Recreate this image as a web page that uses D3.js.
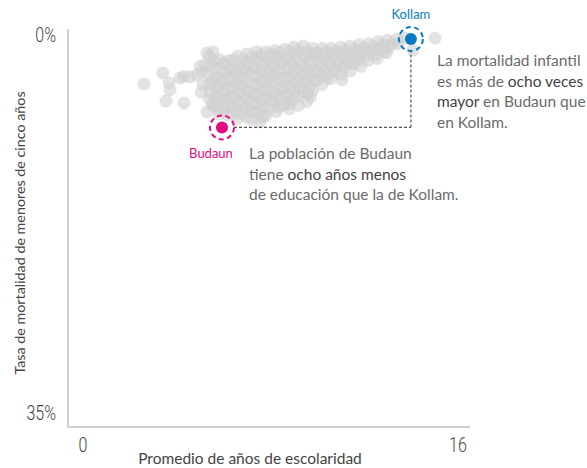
<!DOCTYPE html>
<html>
<head>
<meta charset="utf-8">
<script src="https://cdn.jsdelivr.net/npm/d3@7"></script>
<style>
body { margin: 0; background: #fff; }
text { font-family: Lato, "Open Sans", sans-serif; }
.tick-label { font-family: Roboto, "DejaVu Sans Condensed", sans-serif; font-weight: 300; font-size: 20px; fill: #444; }
.note { font-size: 15.5px; fill: #6b6b6b; }
.note .em { fill: #444; }
</style>
</head>
<body>
<svg width="587" height="468"></svg>
<script>
var xTicks = [0, 16];
var yTicks = [0, 35];

// promedio de años de escolaridad, tasa de mortalidad (%) por distrito
var districts = [
    [2.60, 4.86], [3.41, 3.89], [3.67, 4.77], [3.71, 5.39], [3.54, 6.37], [4.31, 6.54],
    [4.14, 4.33], [4.30, 4.20], [4.56, 4.24], [4.86, 4.07], [5.08, 3.80], [5.12, 4.95],
    [5.29, 2.12], [5.55, 2.03], [5.20, 3.18], [5.29, 7.34], [5.50, 6.70], [5.75, 7.00],
    [5.80, 6.25], [5.00, 3.30], [5.05, 5.60],
    [5.40, 2.40], [5.45, 3.20], [5.35, 4.00], [5.40, 4.80], [5.45, 5.60], [5.40, 6.20],
    [5.80, 2.70], [5.85, 3.50], [5.75, 4.30], [5.80, 5.10], [5.85, 5.90], [5.80, 7.50],
    [6.20, 2.80], [6.25, 3.60], [6.15, 4.40], [6.20, 5.20], [6.25, 6.00], [6.20, 6.80], [6.15, 7.60],
    [6.60, 2.40], [6.65, 3.20], [6.55, 4.00], [6.60, 4.80], [6.65, 5.60], [6.60, 6.40], [6.55, 7.20], [6.60, 7.90],
    [7.00, 2.20], [7.05, 3.00], [6.95, 3.80], [7.00, 4.60], [7.05, 5.40], [7.00, 6.20], [6.95, 7.00], [7.00, 7.80],
    [7.40, 2.00], [7.45, 2.60], [7.35, 3.40], [7.40, 4.20], [7.45, 5.00], [7.40, 5.80], [7.35, 6.60], [7.40, 7.40], [7.55, 8.20],
    [7.80, 2.00], [7.85, 2.90], [7.75, 3.70], [7.80, 4.50], [7.85, 5.30], [7.80, 6.10], [7.75, 6.90], [7.80, 7.70],
    [8.20, 1.90], [8.25, 2.50], [8.15, 3.30], [8.20, 4.10], [8.25, 4.90], [8.20, 5.70], [8.15, 6.50], [8.25, 7.30],
    [8.60, 1.80], [8.65, 2.70], [8.55, 3.50], [8.60, 4.30], [8.65, 5.10], [8.60, 5.90], [8.55, 6.70], [8.80, 7.05],
    [9.00, 1.60], [9.05, 2.30], [8.95, 3.10], [9.00, 3.90], [9.05, 4.70], [9.00, 5.50], [8.95, 6.30], [9.20, 6.75],
    [9.40, 1.50], [9.45, 2.40], [9.35, 3.20], [9.40, 4.00], [9.45, 4.80], [9.40, 5.60], [9.55, 6.40],
    [9.80, 1.70], [9.85, 2.20], [9.75, 3.00], [9.80, 3.80], [9.85, 4.60], [9.80, 5.40], [9.70, 6.00],
    [10.20, 1.70], [10.25, 2.50], [10.15, 3.30], [10.20, 4.10], [10.20, 4.90],
    [10.60, 1.70], [10.65, 2.30], [10.55, 3.10], [10.60, 3.90], [10.55, 4.40],
    [11.00, 1.60], [11.05, 2.40], [10.95, 3.20], [11.00, 4.00], [11.05, 4.50],
    [11.40, 1.50], [11.45, 2.20], [11.35, 3.00], [11.40, 3.70],
    [11.80, 1.40], [11.85, 2.00], [11.75, 2.70], [11.85, 3.30],
    [12.20, 1.30], [12.25, 2.00], [12.15, 2.80],
    [12.60, 1.10], [12.65, 1.80], [12.55, 2.60],
    [13.00, 1.00], [13.05, 1.60], [12.95, 2.10],
    [13.40, 0.90], [13.45, 1.30],
    [13.70, 0.80], [14.08, 1.86], [15.02, 0.80],
    // segunda capa, más densa en el centro
    [5.60, 2.85], [5.65, 3.60], [5.55, 4.45], [5.60, 5.20], [5.65, 6.00], [5.60, 6.80],
    [6.00, 3.00], [6.05, 3.85], [5.95, 4.60], [6.00, 5.40], [6.05, 6.20], [6.00, 7.05],
    [6.40, 2.75], [6.45, 3.60], [6.35, 4.40], [6.40, 5.25], [6.45, 6.00], [6.40, 6.80], [6.35, 7.55],
    [6.80, 2.70], [6.85, 3.50], [6.75, 4.30], [6.80, 5.10], [6.85, 5.90], [6.80, 6.70], [6.75, 7.50],
    [7.20, 2.50], [7.25, 3.30], [7.15, 4.10], [7.20, 4.90], [7.25, 5.70], [7.20, 6.50], [7.15, 7.30], [7.20, 8.00],
    [7.60, 2.30], [7.65, 3.00], [7.55, 3.80], [7.60, 4.60], [7.65, 5.40], [7.60, 6.20], [7.55, 7.00], [7.65, 7.80],
    [8.00, 2.20], [8.05, 3.10], [7.95, 3.90], [8.00, 4.70], [8.05, 5.50], [8.00, 6.30], [7.95, 7.10],
    [8.40, 2.10], [8.45, 2.90], [8.35, 3.70], [8.40, 4.50], [8.45, 5.30], [8.40, 6.10], [8.35, 6.90],
    [8.80, 2.00], [8.85, 2.80], [8.75, 3.60], [8.80, 4.40], [8.85, 5.20], [8.80, 6.00], [8.75, 6.60],
    [9.20, 1.90], [9.25, 2.70], [9.15, 3.50], [9.20, 4.30], [9.25, 5.10], [9.20, 5.90],
    [9.60, 2.00], [9.65, 2.80], [9.55, 3.60], [9.60, 4.40], [9.65, 5.20], [9.60, 5.70],
    [10.00, 2.10], [10.05, 2.90], [9.95, 3.70], [10.00, 4.50],
    [10.40, 2.00], [10.45, 2.80], [10.35, 3.60], [10.40, 4.30],
    [10.80, 2.00], [10.85, 2.80], [10.75, 3.60],
    [11.20, 1.90], [11.25, 2.70], [11.15, 3.40],
    [11.60, 1.80], [11.65, 2.50], [11.55, 3.10],
    [12.00, 1.70], [12.05, 2.40],
    [12.40, 1.60], [12.45, 2.30],
    [12.80, 1.40], [12.85, 2.00],
    [13.20, 1.30]
];

var kollam = { name: "Kollam", years: 13.99, rate: 0.88, color: "#0a7bc2" };
var budaun = { name: "Budaun", years: 5.93, rate: 8.70, color: "#e20a80" };

var svg = d3.select("svg");

var x = d3.scaleLinear().domain([0, 16]).range([83, 458]);
var y = d3.scaleLinear().domain([0, 35]).range([29, 425]);

// ejes
svg.append("line")
    .attr("x1", 68).attr("x2", 68).attr("y1", 29).attr("y2", 428)
    .attr("stroke", "#cfcfcf").attr("stroke-width", 2);
svg.append("line")
    .attr("x1", 67).attr("x2", 470).attr("y1", 427).attr("y2", 427)
    .attr("stroke", "#cfcfcf").attr("stroke-width", 2);

svg.selectAll(".ytick")
    .data(yTicks)
    .enter().append("text")
    .attr("class", "tick-label ytick")
    .attr("transform", function (d) {
        var ty = d === 0 ? y(d) + 13 : y(d) - 5;
        return "translate(56," + ty + ") scale(0.8,1)";
    })
    .attr("text-anchor", "end")
    .text(function (d) { return d + "%"; });

svg.selectAll(".xtick")
    .data(xTicks)
    .enter().append("text")
    .attr("class", "tick-label xtick")
    .attr("transform", function (d) { return "translate(" + x(d) + ",452) scale(0.8,1)"; })
    .attr("text-anchor", "middle")
    .text(function (d) { return d; });

svg.append("text")
    .attr("x", 250).attr("y", 464)
    .attr("text-anchor", "middle")
    .style("font-size", "15.5px").style("fill", "#444")
    .text("Promedio de años de escolaridad");

svg.append("text")
    .attr("transform", "translate(25,233) rotate(-90)")
    .attr("text-anchor", "middle")
    .style("font-size", "14.3px").style("fill", "#444")
    .text("Tasa de mortalidad de menores de cinco años");

// nube de distritos
svg.append("g").selectAll("circle")
    .data(districts)
    .enter().append("circle")
    .attr("cx", function (d) { return x(d[0]); })
    .attr("cy", function (d) { return y(d[1]); })
    .attr("r", 6.5)
    .attr("fill", "#d1d1d1")
    .attr("fill-opacity", 0.6);

// conector
var dash = "3,2";
svg.append("line")
    .attr("x1", x(budaun.years) + 12).attr("x2", x(kollam.years))
    .attr("y1", y(budaun.rate)).attr("y2", y(budaun.rate))
    .attr("stroke", "#555").attr("stroke-width", 1.2).attr("stroke-dasharray", dash);
svg.append("line")
    .attr("x1", x(kollam.years)).attr("x2", x(kollam.years))
    .attr("y1", y(budaun.rate)).attr("y2", y(kollam.rate) + 12)
    .attr("stroke", "#555").attr("stroke-width", 1.2).attr("stroke-dasharray", dash);

[kollam, budaun].forEach(function (d) {
    svg.append("circle")
        .attr("cx", x(d.years)).attr("cy", y(d.rate)).attr("r", 12)
        .attr("fill", "none").attr("stroke", d.color)
        .attr("stroke-width", 2).attr("stroke-dasharray", "5,3.5");
    svg.append("circle")
        .attr("cx", x(d.years)).attr("cy", y(d.rate)).attr("r", 6)
        .attr("fill", d.color);
});

svg.append("text")
    .attr("x", x(kollam.years)).attr("y", 19)
    .attr("text-anchor", "middle")
    .style("font-size", "13px").style("fill", kollam.color)
    .text(kollam.name);

svg.append("text")
    .attr("x", 211).attr("y", 158)
    .attr("text-anchor", "middle")
    .style("font-size", "13px").style("fill", budaun.color)
    .text(budaun.name);

// notas
function note(x0, y0, lines) {
    var t = svg.append("text").attr("class", "note");
    lines.forEach(function (parts, i) {
        parts.forEach(function (p, j) {
            var s = t.append("tspan").text(p[0]);
            if (j === 0) s.attr("x", x0).attr("y", y0 + i * 20.5);
            if (p[1]) s.attr("class", "em");
        });
    });
}

note(437, 66, [
    [["La mortalidad infantil"]],
    [["es más de "], ["ocho veces", true]],
    [["mayor", true], [" en Budaun que"]],
    [["en Kollam."]]
]);

note(249, 159, [
    [["La población de Budaun"]],
    [["tiene "], ["ocho años menos", true]],
    [["de educación que la de Kollam."]]
]);
</script>
</body>
</html>
